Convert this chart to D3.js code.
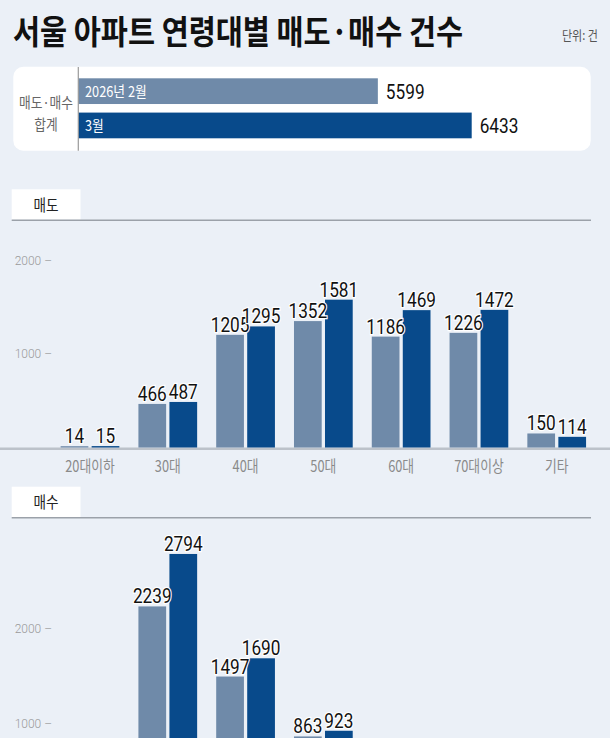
<!DOCTYPE html>
<html>
<head>
<meta charset="utf-8">
<script src="https://cdn.jsdelivr.net/npm/d3@7"></script>
<style>
  body { margin: 0; background: #ebf0f7; }
  svg { display: block; }
  .kr { font-family: "Noto Sans CJK KR", "Noto Sans", sans-serif; }
  .num { font-family: Roboto, "Liberation Sans", sans-serif; }
</style>
</head>
<body>
<svg id="canvas"></svg>
<script>
// data
const ageGroups = ['20대이하', '30대', '40대', '50대', '60대', '70대이상', '기타'];
const months = ['2026년 2월', '3월'];
const totals = [5599, 6433];
const sellFeb = [14, 466, 1205, 1352, 1186, 1226, 150];
const sellMar = [15, 487, 1295, 1581, 1469, 1472, 114];
// 20대이하, 60대, 70대이상, 기타 of 매수 fall below the frame; rough guesses that keep the sums at the totals
const buyFeb = [330, 2239, 1497, 863, 420, 150, 100];
const buyMar = [340, 2794, 1690, 923, 440, 146, 100];
const yTicks = [1000, 2000];

const width = 610, height = 738;
const lightBlue = '#6f8aa9', darkBlue = '#084a8b';

let canvas = d3.select('#canvas')
    .attr('width', width)
    .attr('height', height);

// squeeze text horizontally, the original uses a condensed face
function squeeze(sel, f) {
    sel.each(function () {
        let w = this.getComputedTextLength();
        d3.select(this).attr('textLength', w * f).attr('lengthAdjust', 'spacingAndGlyphs');
    });
}

function drawTitle() {
    canvas.append('text')
        .attr('class', 'kr')
        .attr('x', 13).attr('y', 44)
        .attr('font-size', 33).attr('font-weight', 700)
        .attr('fill', '#111')
        .text('서울 아파트 연령대별 매도·매수 건수')
        .attr('textLength', 450).attr('lengthAdjust', 'spacingAndGlyphs');

    canvas.append('text')
        .attr('class', 'kr')
        .attr('x', 598).attr('y', 40)
        .attr('text-anchor', 'end')
        .attr('font-size', 13).attr('fill', '#555')
        .text('단위: 건')
        .call(squeeze, 0.85);
}

function drawTotals() {
    let g = canvas.append('g');
    g.append('rect')
        .attr('x', 13.3).attr('y', 66.7)
        .attr('width', 577.4).attr('height', 84)
        .attr('rx', 10)
        .attr('fill', '#fff');

    let xs = d3.scaleLinear().domain([2937, 6433]).range([78.3, 471.7]);
    let ys = d3.scaleBand().domain(months).range([78.3, 138.3]).paddingInner(0.25);
    let rows = months.map((m, i) => ({ m: m, v: totals[i], c: i == 0 ? lightBlue : darkBlue }));

    g.selectAll('.tbar')
        .data(rows)
        .enter()
        .append('rect')
        .attr('class', 'tbar')
        .attr('x', xs(xs.domain()[0]))
        .attr('y', d => ys(d.m))
        .attr('width', d => xs(d.v) - xs(xs.domain()[0]))
        .attr('height', ys.bandwidth())
        .attr('fill', d => d.c);

    g.selectAll('.tname')
        .data(rows)
        .enter()
        .append('text')
        .attr('class', 'tname kr')
        .attr('x', 85)
        .attr('y', d => ys(d.m) + ys.bandwidth() / 2 + 5.5)
        .attr('font-size', 15).attr('fill', '#fff')
        .text(d => d.m)
        .call(squeeze, 0.85);

    g.selectAll('.tval')
        .data(rows)
        .enter()
        .append('text')
        .attr('class', 'tval num')
        .attr('x', d => xs(d.v) + 8)
        .attr('y', d => ys(d.m) + ys.bandwidth() / 2 + 7.5)
        .attr('font-size', 21).attr('fill', '#111')
        .text(d => d.v)
        .call(squeeze, 0.82);

    g.append('line')
        .attr('x1', 78.3).attr('x2', 78.3)
        .attr('y1', 67).attr('y2', 150.7)
        .attr('stroke', '#9a9a9a').attr('stroke-width', 1.2);

    g.selectAll('.tlab')
        .data(['매도·매수', '합계'])
        .enter()
        .append('text')
        .attr('class', 'tlab kr')
        .attr('x', 46)
        .attr('y', (d, i) => 107.5 + i * 22.5)
        .attr('text-anchor', 'middle')
        .attr('font-size', 15).attr('fill', '#666')
        .text(d => d)
        .call(squeeze, 0.85);
}

let x0 = d3.scaleBand().domain(ageGroups).range([51.1, 595.6]).paddingInner(0.245).paddingOuter(0.1225);
let x1 = d3.scaleBand().domain(['feb', 'mar']).range([0, x0.bandwidth()]).paddingInner(0.106);

function drawPanel(name, feb, mar, tabTop, baseY, k) {
    let g = canvas.append('g');
    let y = d3.scaleLinear().domain([0, 2000]).range([baseY, baseY - 2000 * k]);

    // tab
    g.append('rect')
        .attr('x', 11.7).attr('y', tabTop)
        .attr('width', 68.8).attr('height', 30.5)
        .attr('fill', '#fff');
    g.append('text')
        .attr('class', 'kr')
        .attr('x', 46).attr('y', tabTop + 21.5)
        .attr('text-anchor', 'middle')
        .attr('font-size', 16).attr('fill', '#222')
        .text(name)
        .call(squeeze, 0.85);
    g.append('line')
        .attr('x1', 11.7).attr('x2', 591)
        .attr('y1', tabTop + 31).attr('y2', tabTop + 31)
        .attr('stroke', '#9ba1a9').attr('stroke-width', 1.5);

    // y ticks
    let axis = g.append('g')
        .attr('class', 'num')
        .attr('transform', 'translate(52,0)')
        .call(d3.axisLeft(y).tickValues(yTicks).tickSize(0).tickPadding(0).tickFormat(d => d + ' –'));
    axis.select('.domain').remove();
    axis.selectAll('text')
        .attr('font-family', 'Roboto, sans-serif')
        .attr('font-size', 12).attr('font-weight', 300)
        .attr('fill', '#9a9a9a');

    // baseline
    g.append('line')
        .attr('x1', 0).attr('x2', width)
        .attr('y1', baseY + 1.3).attr('y2', baseY + 1.3)
        .attr('stroke', '#bcc2ca').attr('stroke-width', 2.6);

    let groups = g.selectAll('.grp')
        .data(ageGroups.map((a, i) => ({ a: a, vals: [{ k: 'feb', v: feb[i] }, { k: 'mar', v: mar[i] }] })))
        .enter()
        .append('g')
        .attr('class', 'grp')
        .attr('transform', d => 'translate(' + x0(d.a) + ',0)');

    groups.selectAll('rect')
        .data(d => d.vals)
        .enter()
        .append('rect')
        .attr('x', d => x1(d.k))
        .attr('y', d => y(d.v))
        .attr('width', x1.bandwidth())
        .attr('height', d => baseY - y(d.v))
        .attr('fill', d => d.k == 'feb' ? lightBlue : darkBlue);

    // labels that would land below the frame are not drawn
    groups.selectAll('text')
        .data(d => d.vals.filter(e => y(e.v) - 3 < height))
        .enter()
        .append('text')
        .attr('class', 'num')
        .attr('x', d => x1(d.k) + x1.bandwidth() / 2)
        .attr('y', d => y(d.v) - 3)
        .attr('text-anchor', 'middle')
        .attr('font-size', 21).attr('fill', '#111')
        .attr('stroke', '#fff').attr('stroke-width', 2.5)
        .attr('paint-order', 'stroke')
        .text(d => d.v)
        .call(squeeze, 0.82);

    if (baseY + 24 < height) {
        g.selectAll('.cat')
            .data(ageGroups)
            .enter()
            .append('text')
            .attr('class', 'cat kr')
            .attr('x', d => x0(d) + x0.bandwidth() / 2)
            .attr('y', baseY + 24)
            .attr('text-anchor', 'middle')
            .attr('font-size', 16).attr('fill', '#8a8a8a')
            .text(d => d)
            .call(squeeze, 0.8);
    }
}

drawTitle();
drawTotals();
drawPanel('매도', sellFeb, sellMar, 189.3, 447.5, 0.0935);
drawPanel('매수', buyFeb, buyMar, 486.7, 818, 0.0945);
</script>
</body>
</html>
